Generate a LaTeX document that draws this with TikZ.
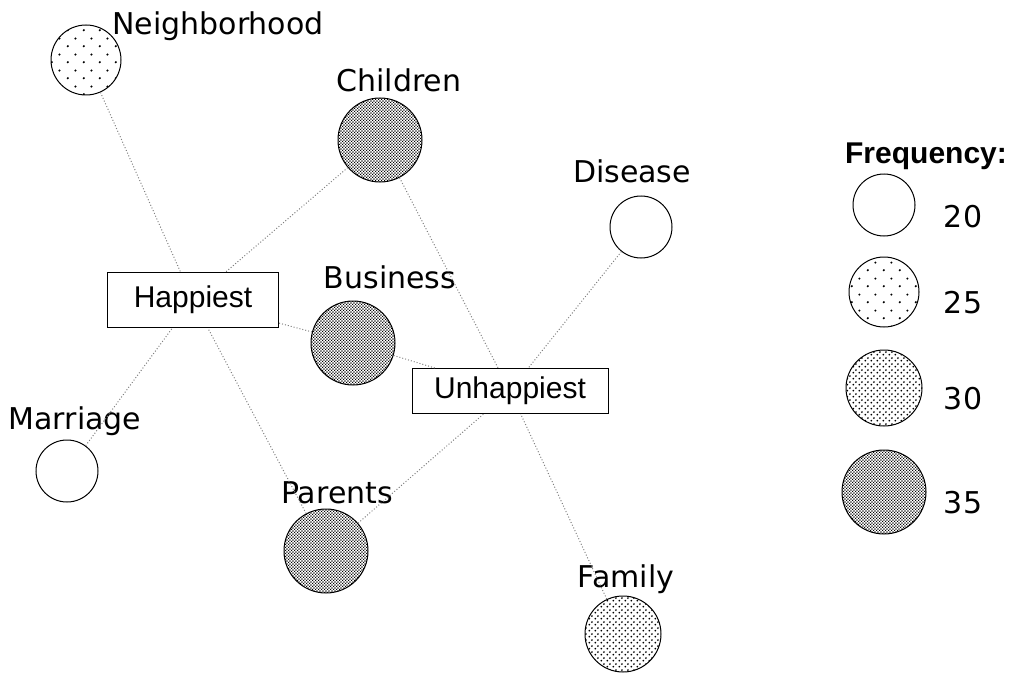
\documentclass[tikz,border=0pt]{standalone}
\usepackage{fontspec}
\setmainfont{DejaVu Sans}
\newfontfamily\boxfont{Liberation Sans}
\usetikzlibrary{patterns}

% fill patterns for the frequency classes
\pgfdeclarepatternformonly{sparse dots}{\pgfqpoint{0pt}{0pt}}{\pgfqpoint{8pt}{8pt}}{\pgfqpoint{8pt}{8pt}}{%
  \pgfpathcircle{\pgfqpoint{2pt}{2pt}}{0.6pt}%
  \pgfpathcircle{\pgfqpoint{6pt}{6pt}}{0.6pt}%
  \pgfusepath{fill}}
\pgfdeclarepatternformonly{dense dots}{\pgfqpoint{0pt}{0pt}}{\pgfqpoint{3pt}{3pt}}{\pgfqpoint{3pt}{3pt}}{%
  \pgfpathcircle{\pgfqpoint{0.75pt}{0.75pt}}{0.55pt}%
  \pgfpathcircle{\pgfqpoint{2.25pt}{2.25pt}}{0.55pt}%
  \pgfusepath{fill}}
\pgfdeclarepatternformonly{fine checker}{\pgfqpoint{0pt}{0pt}}{\pgfqpoint{1.4pt}{1.4pt}}{\pgfqpoint{1.4pt}{1.4pt}}{%
  \pgfpathrectangle{\pgfqpoint{0pt}{0pt}}{\pgfqpoint{0.66pt}{0.66pt}}%
  \pgfpathrectangle{\pgfqpoint{0.7pt}{0.7pt}}{\pgfqpoint{0.66pt}{0.66pt}}%
  \pgfusepath{fill}}

\begin{document}
\begin{tikzpicture}[x=0.5pt, y=-0.5pt,
    font=\fontsize{15}{18}\selectfont,
    freq/.style={circle, draw, line width=0.5pt, fill=white, inner sep=0pt},
    f20/.style={freq, minimum size=31pt},
    f25/.style={freq, minimum size=35pt, postaction={pattern=sparse dots}},
    f30/.style={freq, minimum size=38pt, postaction={pattern=dense dots}},
    f35/.style={freq, minimum size=42pt, postaction={pattern=fine checker}},
    mood/.style={draw, line width=0.5pt, fill=white, font=\boxfont\fontsize{15}{18}\selectfont},
    tag/.style={anchor=base},
    link/.style={draw=gray, line width=0.5pt, densely dotted}]
  \useasboundingbox (0,0) rectangle (1017,674);

  % topics
  \node[f25] (neighborhood) at (86,60) {};
  \node[f35] (children) at (380,140) {};
  \node[f20] (disease) at (641,227) {};
  \node[f35] (business) at (353,343) {};
  \node[f20] (marriage) at (67,471) {};
  \node[f35] (parents) at (326,551) {};
  \node[f30] (family) at (623,634) {};

  \node[tag] (neighborhood-t) at (218,35) {Neighborhood};
  \node[tag] (children-t) at (399,91) {Children};
  \node[tag] (disease-t) at (632,183) {Disease};
  \node[tag] (business-t) at (390,288) {Business};
  \node[tag] (marriage-t) at (75,429) {Marriage};
  \node[tag] (parents-t) at (337,503) {Parents};
  \node[tag] (family-t) at (626,587) {Family};

  % the two moods
  \node[mood, minimum width=85.5pt, minimum height=27.5pt] (happiest) at (193,300) {Happiest};
  \node[mood, minimum width=98pt, minimum height=22.5pt] (unhappiest) at (510,391) {Unhappiest};

  \begin{scope}[on background layer/.try]
  \foreach \a/\b in {neighborhood/happiest, children/happiest, business/happiest,
      marriage/happiest, parents/happiest, children/unhappiest, disease/unhappiest,
      business/unhappiest, parents/unhappiest, family/unhappiest}
    \draw[link] (\a) -- (\b);
  \end{scope}

  % legend
  \node[tag, font=\boxfont\bfseries\fontsize{15}{18}\selectfont] (legend) at (926,163) {Frequency:};
  \node[f20] (l20) at (884,205) {};
  \node[f25] (l25) at (884,292) {};
  \node[f30] (l30) at (884,388) {};
  \node[f35] (l35) at (884,492) {};
  \node[tag] (l20-t) at (963,227) {20};
  \node[tag] (l25-t) at (963,313) {25};
  \node[tag] (l30-t) at (963,409) {30};
  \node[tag] (l35-t) at (963,513) {35};
\end{tikzpicture}
\end{document}
